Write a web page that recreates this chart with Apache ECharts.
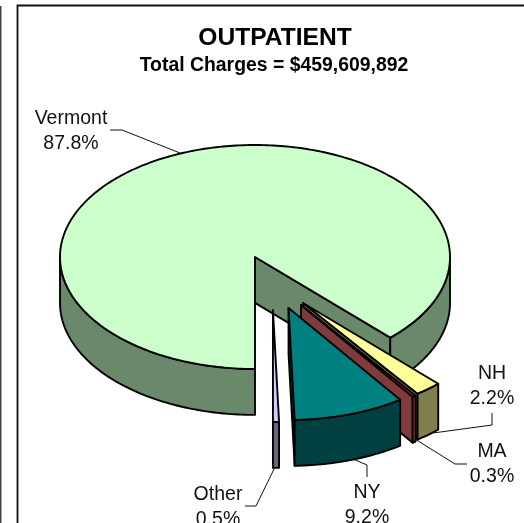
<!DOCTYPE html>
<html>
<head>
<meta charset="utf-8">
<style>html,body{margin:0;padding:0;background:#fff;overflow:hidden}#c{width:524px;height:523px}</style>
<script src="https://cdn.jsdelivr.net/npm/echarts@6/dist/echarts.min.js"></script>
</head>
<body>
<div id="c"></div>
<script>
// Data
const categories = ['Vermont', 'NH', 'MA', 'NY', 'Other'];
const percents = [87.8, 2.2, 0.3, 9.2, 0.5];
const titleText = 'OUTPATIENT';
const subtitleText = 'Total Charges = $459,609,892';

// Styling and layout, in the pie's own units (radius = 1)
const startAngle = 180;              // clockwise from 12 o'clock
const depth = 0.41;
const explode = [[0, 0], [0.246, 0.411], [0.236, 0.429], [0.172, 0.455], [0.092, 0.473]];
const topColors = ['#CCFFCC', '#FFFF99', '#993333', '#008080', '#CCCCFF'];
const wallColors = ['#6A896A', '#80804D', '#803C3C', '#004040', '#666680'];
const labelFont = '"Liberation Sans", Arial, sans-serif';
const labelPos = [[71, 106], [492, 361], [492, 439], [367, 480], [218, 482]];
const leaders = [
  [[110, 130], [122, 130], [180, 153]],
  [[492, 413], [492, 425], [433, 433]],
  [[467, 464], [455, 464], [415, 439]],
  [[367, 477], [367, 465], [353, 459]],
  [[245, 506], [256, 506], [275, 467]]
];

const total = percents.reduce((a, b) => a + b, 0);
const spans = [];
let cursor = startAngle;
percents.forEach(p => {
  const next = cursor + p / total * 360;
  spans.push([cursor, next]);
  cursor = next;
});
const rad = d => d * Math.PI / 180;

function renderSlice(params, api) {
  const i = params.dataIndex;
  const [a0, a1] = spans[i];
  const [ox, oy] = explode[i];
  const P = (r, a, z) => api.coord([ox + r * Math.sin(rad(a)), oy - r * Math.cos(rad(a)) + z]);
  const rim = (from, to, z) => {
    const n = Math.max(2, Math.ceil(Math.abs(to - from)));
    const pts = [];
    for (let k = 0; k <= n; k++) pts.push(P(1, from + (to - from) * k / n, z));
    return pts;
  };
  const line = { stroke: '#000', lineWidth: 1.9, lineJoin: 'round' };
  const poly = (points, fill) => ({ type: 'polygon', shape: { points }, style: { fill, ...line } });
  const children = [];
  const wall = wallColors[i];
  // radial walls that face the viewer
  if (Math.sin(rad(a1)) > 0.001) {
    children.push(poly([P(0, a1, 0), P(1, a1, 0), P(1, a1, depth), P(0, a1, depth)], wall));
  }
  if (Math.sin(rad(a0)) < -0.001) {
    children.push(poly([P(0, a0, 0), P(1, a0, 0), P(1, a0, depth), P(0, a0, depth)], wall));
  }
  // outer wall: only the part of the rim on the near half (90..270 clockwise, modulo 360)
  [[90, 270], [450, 630]].forEach(([lo, hi]) => {
    const from = Math.max(a0, lo), to = Math.min(a1, hi);
    if (to > from) {
      children.push(poly(rim(from, to, 0).concat(rim(to, from, depth)), wall));
    }
  });
  // top face
  children.push(poly([P(0, a0, 0)].concat(rim(a0, a1, 0)), topColors[i]));
  return { type: 'group', children };
}

const graphics = [
  { type: 'rect', shape: { x: 17.5, y: 5.5, width: 520, height: 530 }, style: { fill: '#fff', stroke: '#111', lineWidth: 1.8 }, z: -1 },
  { type: 'line', shape: { x1: 0.5, y1: 6, x2: 0.5, y2: 523 }, style: { stroke: '#444', lineWidth: 2 }, z: -1 }
];
categories.forEach((name, i) => {
  graphics.push({
    type: 'text', x: labelPos[i][0], y: labelPos[i][1],
    style: {
      text: name + '\n' + percents[i].toFixed(1) + '%',
      font: '19.5px ' + labelFont, lineHeight: 25, fill: '#111',
      align: 'center', verticalAlign: 'top'
    },
    z: 5
  });
  graphics.push({
    type: 'polyline', shape: { points: leaders[i] },
    style: { stroke: '#111', lineWidth: 1, fill: 'none' }, z: 5
  });
});

const chart = echarts.init(document.getElementById('c'), null, { renderer: 'canvas' });
chart.setOption({
  animation: false,
  backgroundColor: '#fff',
  title: [
    { text: titleText, left: 270, top: 21, textAlign: 'center',
      textStyle: { fontFamily: labelFont, fontSize: 24.6, fontWeight: 'bold', color: '#000' } },
    { text: subtitleText, left: 269, top: 51, textAlign: 'center',
      textStyle: { fontFamily: labelFont, fontSize: 19.4, fontWeight: 'bold', color: '#000' } }
  ],
  grid: { left: 60, width: 390, top: 145, height: 224, containLabel: false },
  xAxis: { type: 'value', min: -1, max: 1, show: false },
  yAxis: { type: 'value', min: -1, max: 1, inverse: true, show: false },
  series: [{
    type: 'custom',
    coordinateSystem: 'cartesian2d',
    clip: false,
    silent: true,
    renderItem: renderSlice,
    encode: { x: 0, y: 1 },
    data: categories.map((name, i) => ({ name, value: [0, 0, percents[i]] }))
  }],
  graphic: graphics
});
</script>
</body>
</html>
